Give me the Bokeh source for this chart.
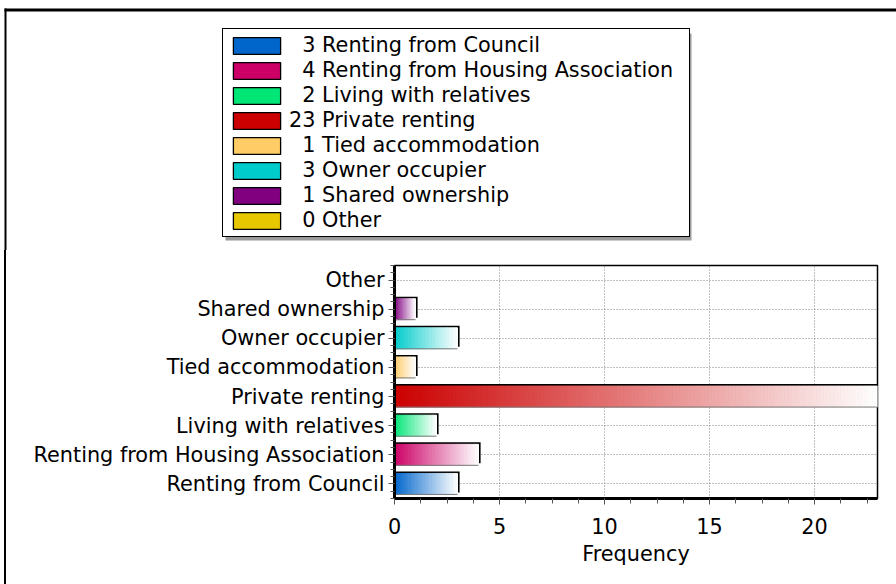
import math
from bokeh.plotting import figure
from bokeh.models import (ColumnDataSource, Range1d, FixedTicker, Legend, LegendItem,
                          InlineStyleSheet)
from bokeh.embed import file_html
from bokeh.resources import INLINE

# ---------------- data ----------------
categories = ["Renting from Council", "Renting from Housing Association",
              "Living with relatives", "Private renting", "Tied accommodation",
              "Owner occupier", "Shared ownership", "Other"]
counts = [3, 4, 2, 23, 1, 3, 1, 0]
colors = ["#0066cc", "#cc0066", "#00e676", "#cc0000", "#ffcc66",
          "#00cccc", "#800080", "#e6c700"]
x_ticks = [0, 5, 10, 15, 20]
x_label = "Frequency"

FONT = "DejaVu Sans"
FS = "20.8px"

W, H = 896, 584
SPLIT = 250                           # height of the legend strip
FL, FT, FR, FB = 394, 265, 877, 498   # plot frame edges (page pixels)

# ---------------- legend strip ----------------
top = figure(width=W, height=SPLIT, output_backend="svg", toolbar_location=None,
             x_range=Range1d(0, W), y_range=Range1d(SPLIT, 0),
             x_axis_type=None, y_axis_type=None,
             min_border=0, min_border_left=0, min_border_right=0,
             min_border_top=0, min_border_bottom=0)
top.grid.visible = False
top.outline_line_color = None
top.background_fill_color = "white"
top.border_fill_color = "white"

# outer chart border (top and left edges)
top.segment(x0=[4], y0=[9.5], x1=[W], y1=[9.5], line_color="black", line_width=3)
top.segment(x0=[5], y0=[8], x1=[5], y1=[SPLIT], line_color="black", line_width=2)

LG_L, LG_T, LG_R, LG_B = 222, 30, 688, 237
# legend drop shadow
top.quad(left=[LG_L + 3], right=[LG_R + 3], top=[LG_T + 3], bottom=[LG_B + 3],
         fill_color="#9a9a9a", line_color=None)

items = []
for i, c in enumerate(categories):
    # legend proxy: a zero-width bar placed off the visible strip
    r = top.quad(left=[0], right=[0], top=[-100], bottom=[-101],
                 fill_color=colors[i], line_color="black", line_width=1.3)
    lab = ("\u2007" if counts[i] < 10 else "") + f"{counts[i]} {c}"
    items.append(LegendItem(label=lab, renderers=[r]))

PAD, GW, STAND = 4, 59, 3
legend = Legend(items=items, location=(LG_L, SPLIT - LG_B),
                label_text_font=FONT, label_text_font_size=FS,
                label_text_color="black",
                glyph_width=GW, glyph_height=21, label_standoff=STAND,
                label_width=(LG_R - LG_L) - 2 * PAD - GW - STAND,
                label_height=22, spacing=1, padding=PAD, margin=0,
                border_line_color="black", border_line_width=1.5,
                border_line_alpha=1.0,
                background_fill_color="white", background_fill_alpha=1.0)
top.add_layout(legend, "center")

# ---------------- bar chart ----------------
css = """
:host { position: relative; }
:host::before { content: ""; position: absolute; left: 4px; top: 0px;
  width: 0px; height: %dpx; border-left: 2px solid #000;
  z-index: 5; pointer-events: none; }
""" % (H - SPLIT)

n = len(categories)
p = figure(width=W, height=H - SPLIT, output_backend="svg", toolbar_location=None,
           x_range=Range1d(0, 23), y_range=Range1d(-0.5, n - 0.5),
           min_border_left=FL, min_border_top=FT - SPLIT, min_border_right=W - FR,
           min_border_bottom=H - FB, stylesheets=[InlineStyleSheet(css=css)])
p.background_fill_color = "white"
p.border_fill_color = "white"
p.outline_line_color = "black"
p.outline_line_width = 1.5

p.xgrid.ticker = FixedTicker(ticks=x_ticks)
p.ygrid.ticker = FixedTicker(ticks=list(range(n)))
for g in (p.xgrid, p.ygrid):
    g.grid_line_color = "#808080"
    g.grid_line_dash = "1 2"
    g.grid_line_width = 1

xa = p.xaxis[0]
xa.ticker = FixedTicker(ticks=x_ticks,
                        minor_ticks=[i * 1.25 for i in range(0, 19)])
xa.axis_label = x_label
xa.axis_label_text_font = FONT
xa.axis_label_text_font_size = FS
xa.axis_label_text_font_style = "normal"
xa.axis_label_text_color = "black"
xa.axis_label_standoff = 5
xa.major_label_text_font = FONT
xa.major_label_text_font_size = FS
xa.major_label_text_color = "black"
xa.major_label_standoff = 13
xa.axis_line_width = 3
xa.axis_line_color = "black"
xa.major_tick_line_color = "#555555"
xa.minor_tick_line_color = "#555555"
xa.major_tick_out = 6
xa.major_tick_in = 0
xa.minor_tick_out = 5
xa.minor_tick_in = 0

ya = p.yaxis[0]
ya.ticker = FixedTicker(ticks=list(range(n)),
                        minor_ticks=[i * 0.25 - 0.5 for i in range(0, 4 * n + 1)])
ya.major_label_overrides = {i: c for i, c in enumerate(categories)}
ya.major_label_text_font = FONT
ya.major_label_text_font_size = FS
ya.major_label_text_color = "black"
ya.major_label_standoff = 4
ya.axis_line_width = 3
ya.axis_line_color = "black"
ya.major_tick_line_color = "#555555"
ya.minor_tick_line_color = "#555555"
ya.major_tick_out = 6
ya.major_tick_in = 0
ya.minor_tick_out = 4
ya.minor_tick_in = 0


def mix(hex_color, t):
    r = int(hex_color[1:3], 16)
    g = int(hex_color[3:5], 16)
    b = int(hex_color[5:7], 16)
    r = round(r + (255 - r) * t)
    g = round(g + (255 - g) * t)
    b = round(b + (255 - b) * t)
    return "#%02x%02x%02x" % (r, g, b)


BAR_H = 0.72
sh = ColumnDataSource(dict(y=[i + 0.07 for i in range(n) if counts[i] > 0],
                           right=[counts[i] + 0.1 for i in range(n) if counts[i] > 0]))
p.hbar(y="y", right="right", left=0, height=BAR_H, source=sh,
       fill_color="black", line_color=None)

ys, ls, rs, cs = [], [], [], []
for i, v in enumerate(counts):
    if v <= 0:
        continue
    ns = max(16, int(math.ceil(v * 12)))
    for k in range(ns):
        ys.append(i)
        ls.append(v * k / ns)
        rs.append(v * (k + 1) / ns)
        cs.append(mix(colors[i], (k + 0.5) / ns))
gs = ColumnDataSource(dict(y=ys, left=ls, right=rs, c=cs))
p.hbar(y="y", left="left", right="right", height=BAR_H, source=gs,
       fill_color="c", line_color="c", line_width=1)

be = ColumnDataSource(dict(y=[i - BAR_H / 2 for i in range(n) if counts[i] > 0],
                           right=[counts[i] for i in range(n) if counts[i] > 0]))
p.segment(x0=0, y0="y", x1="right", y1="y", source=be, line_color="#777777",
          line_width=1)

open("out.html", "w").write(file_html([top, p], INLINE))
